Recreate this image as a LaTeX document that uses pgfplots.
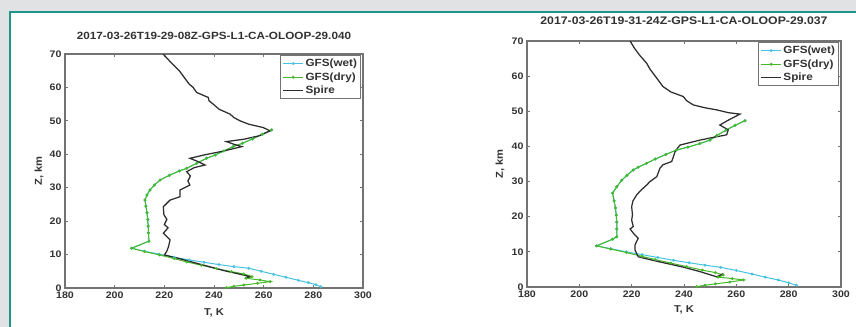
\documentclass[border=0pt]{standalone}
\usepackage{pgfplots}
\pgfplotsset{compat=1.18}
\usepackage{fontspec}
\setmainfont{Liberation Sans}[FakeStretch=1.12]
\definecolor{bgg}{RGB}{224,226,228}
\definecolor{teal1}{RGB}{30,150,140}
\definecolor{wet}{RGB}{70,195,225}
\definecolor{dry}{RGB}{70,185,40}
\definecolor{spire}{RGB}{45,45,45}
\definecolor{axg}{RGB}{115,115,115}
\definecolor{txt}{RGB}{50,50,50}
\pgfplotsset{prof/.style={
  scale only axis,
  xmin=180,xmax=300,ymin=0,ymax=70,
  xtick={180,200,...,300}, ytick={0,10,...,70},
  tick align=inside, major tick length=3bp,
  axis line style={axg, line width=1.2bp},
  tick style={axg, line width=0.8bp},
  ticklabel style={font=\fontsize{9.5}{10}\selectfont\bfseries, text=txt},
  /pgf/number format/assume math mode=true,
  xlabel={T, K}, ylabel={Z, km},
  label style={font=\fontsize{10}{11}\selectfont\bfseries, text=txt},
  title style={font=\fontsize{10.5}{11}\selectfont\bfseries, text=txt, anchor=center},
  legend style={draw=axg, line width=0.8bp, font=\fontsize{10.5}{12}\selectfont\bfseries, text=txt,
    anchor=north east, at={(rel axis cs:0.993,0.995)}, inner sep=2bp, row sep=1.5bp,
    nodes={inner sep=1.5bp}},
  legend cell align=left,
  legend image code/.code={\draw[mark repeat=2,mark phase=2,##1] plot coordinates {(0cm,0cm) (0.36cm,0cm) (0.72cm,0cm)};},
  wetst/.style={wet, line width=1bp, mark=*, mark size=0.9bp},
  dryst/.style={dry, line width=1bp, mark=*, mark size=0.9bp},
  spst/.style={spire, line width=1.25bp, no marks},
}}
\begin{document}
\begin{tikzpicture}
\path[use as bounding box] (0,0) rectangle (856bp,327bp);
\fill[bgg] (0,0) rectangle (856bp,327bp);
\fill[white] (10bp,-5bp) rectangle (870bp,315bp);
\draw[teal1, line width=1.6bp] (10bp,-5bp) -- (10bp,315bp) -- (870bp,315bp);

\begin{axis}[prof, at={(65bp,39bp)}, anchor=south west, width=298bp, height=234bp,
  title={2017-03-26T19-29-08Z-GPS-L1-CA-OLOOP-29.040},
  title style={at={(axis description cs:0.5,1.051)}},
  xlabel style={at={(axis description cs:0.5,-0.107)}, anchor=center},
  ylabel style={at={(axis description cs:-0.087,0.5)}, anchor=center}]
\addplot[wetst] coordinates {
(263.2,47.3)(259.5,46.0)(255.5,44.6)(251.5,43.3)(247.7,42.3)(244,41.0)(240.5,39.8)(237,38.8)
(233,37.3)(229,35.8)(226,35.0)(222,33.7)(218.3,32.3)(216,30.8)(214.2,29.3)(213,27.8)(212.2,26.3)
(212.6,24.5)(213,22.5)(213.3,20.5)(213.5,18.5)(213.6,16.5)(213.8,14.0)(206.8,11.9)
(212,11.0)(218,10.1)(224,9.2)(230,8.4)(236,7.7)(242,7.0)(248,6.4)(254,5.9)(259,5.0)(264,4.1)
(269,3.2)(274,2.3)(278,1.6)(281,1.0)(283,0.4)};
\addplot[dryst] coordinates {
(263.2,47.3)(259.5,46.0)(255.5,44.6)(251.5,43.3)(247.7,42.3)(244,41.0)(240.5,39.8)(237,38.8)
(233,37.3)(229,35.8)(226,35.0)(222,33.7)(218.3,32.3)(216,30.8)(214.2,29.3)(213,27.8)(212.2,26.3)
(212.6,24.5)(213,22.5)(213.3,20.5)(213.5,18.5)(213.6,16.5)(213.8,14.0)(206.8,11.9)
(212,10.9)(218,9.9)(224,8.8)(229,7.8)(235,6.8)(241,5.8)(247,4.9)(252,4.2)(255.3,3.4)(253,2.9)
(258.5,2.4)(262.6,1.9)(257.5,1.4)(252,0.9)(248,0.5)(245,0.1)};
\addplot[spst] coordinates {
(219.5,70)(222,68)(224,66.5)(226,65)(228,63)(230,61)(231.6,60)(233,58.5)(237.7,57)(238,56)
(239.7,55)(242,53.5)(246.5,52)(248,51)(250.5,50)(254,49)(259.8,48)(262.6,47)(258,45.5)(252,44.5)
(245,43.8)(248,43)(251.2,42.3)(244,41)(236,39.8)(230.3,38.8)(233,38)(236.4,36.8)(232,36)(229,34.8)
(230.5,33.5)(229.5,32)(230.3,30.8)(226.3,29.3)(226.3,27.3)(222.3,26.3)(219.6,24.3)(219.8,22)
(221,20.5)(220,19)(221.5,18)(219.6,16.4)(222.3,14.4)(221.7,12.4)(221,11)(220,9.9)(226,8.8)
(232,7.6)(238,6.4)(244,5.2)(250,4.2)(254.5,3.4)(252.5,3.0)};
\legend{GFS(wet),GFS(dry),Spire}
\end{axis}

\begin{axis}[prof, at={(527bp,40bp)}, anchor=south west, width=314bp, height=246bp,
  title={2017-03-26T19-31-24Z-GPS-L1-CA-OLOOP-29.037},
  title style={at={(axis description cs:0.5,1.057)}, font=\fontsize{11}{12}\selectfont\bfseries},
  xlabel style={at={(axis description cs:0.5,-0.094)}, anchor=center},
  ylabel style={at={(axis description cs:-0.086,0.5)}, anchor=center}]
\addplot[wetst] coordinates {
(263.3,47.3)(259.5,46.0)(256,44.6)(252.5,43.1)(249.9,41.8)(246,40.8)(241.5,39.8)(237.2,39.0)
(233,37.7)(229,36.4)(225.7,35.2)(222.5,34.1)(220.6,33.3)(218.2,31.8)(216.2,30.4)(214.3,28.5)
(212.7,26.7)(213.3,24.5)(213.8,22.5)(214.1,20.5)(214.3,18.5)(214.3,16.5)(214.3,14.3)(212.7,13.6)
(206.6,11.7)(212,10.9)(218,10.0)(224,9.2)(230,8.4)(236,7.6)(242,6.9)(248,6.2)(254,5.6)(260,4.7)
(266,3.7)(271,2.8)(276,2.0)(280,1.2)(283,0.5)};
\addplot[dryst] coordinates {
(263.3,47.3)(259.5,46.0)(256,44.6)(252.5,43.1)(249.9,41.8)(246,40.8)(241.5,39.8)(237.2,39.0)
(233,37.7)(229,36.4)(225.7,35.2)(222.5,34.1)(220.6,33.3)(218.2,31.8)(216.2,30.4)(214.3,28.5)
(212.7,26.7)(213.3,24.5)(213.8,22.5)(214.1,20.5)(214.3,18.5)(214.3,16.5)(214.3,14.3)(212.7,13.6)
(206.6,11.7)(212,10.8)(218,9.8)(224,8.7)(229,7.8)(235,6.8)(241,5.8)(247,4.8)(252,4.1)(255,3.4)
(253,2.8)(258.5,2.4)(262.7,2.0)(257.5,1.4)(252,0.9)(248,0.5)(244.8,0.1)};
\addplot[spst] coordinates {
(219.4,70)(221,68)(223,66)(225.7,63.7)(227,62)(229,60)(232,57)(235,55.5)(239.7,54.2)(241,53)
(243.6,51.8)(248,51)(252.5,50.4)(257,49.6)(261.4,49.2)(257,47.5)(253.7,46.1)(256.9,44.7)(256.3,43.3)
(250,42.4)(246.1,41.8)(238.5,40.4)(237.5,39.5)(236.6,38.5)(235.3,35.7)(232,34.8)(230.8,33.8)
(229.6,31.4)(227,30)(225.7,29)(223.5,27.5)(221.9,26.2)(220.5,24.5)(220,22.9)(220.3,20.5)(220,19)
(220.6,17.2)(219.4,16.5)(221,15)(222.5,13.9)(221.3,12)(221.3,10.5)(222.5,8.6)(228,7.6)(234,6.6)
(240,5.6)(246,4.4)(252.5,2.9)(255,3.8)};
\legend{GFS(wet),GFS(dry),Spire}
\end{axis}
\end{tikzpicture}
\end{document}
